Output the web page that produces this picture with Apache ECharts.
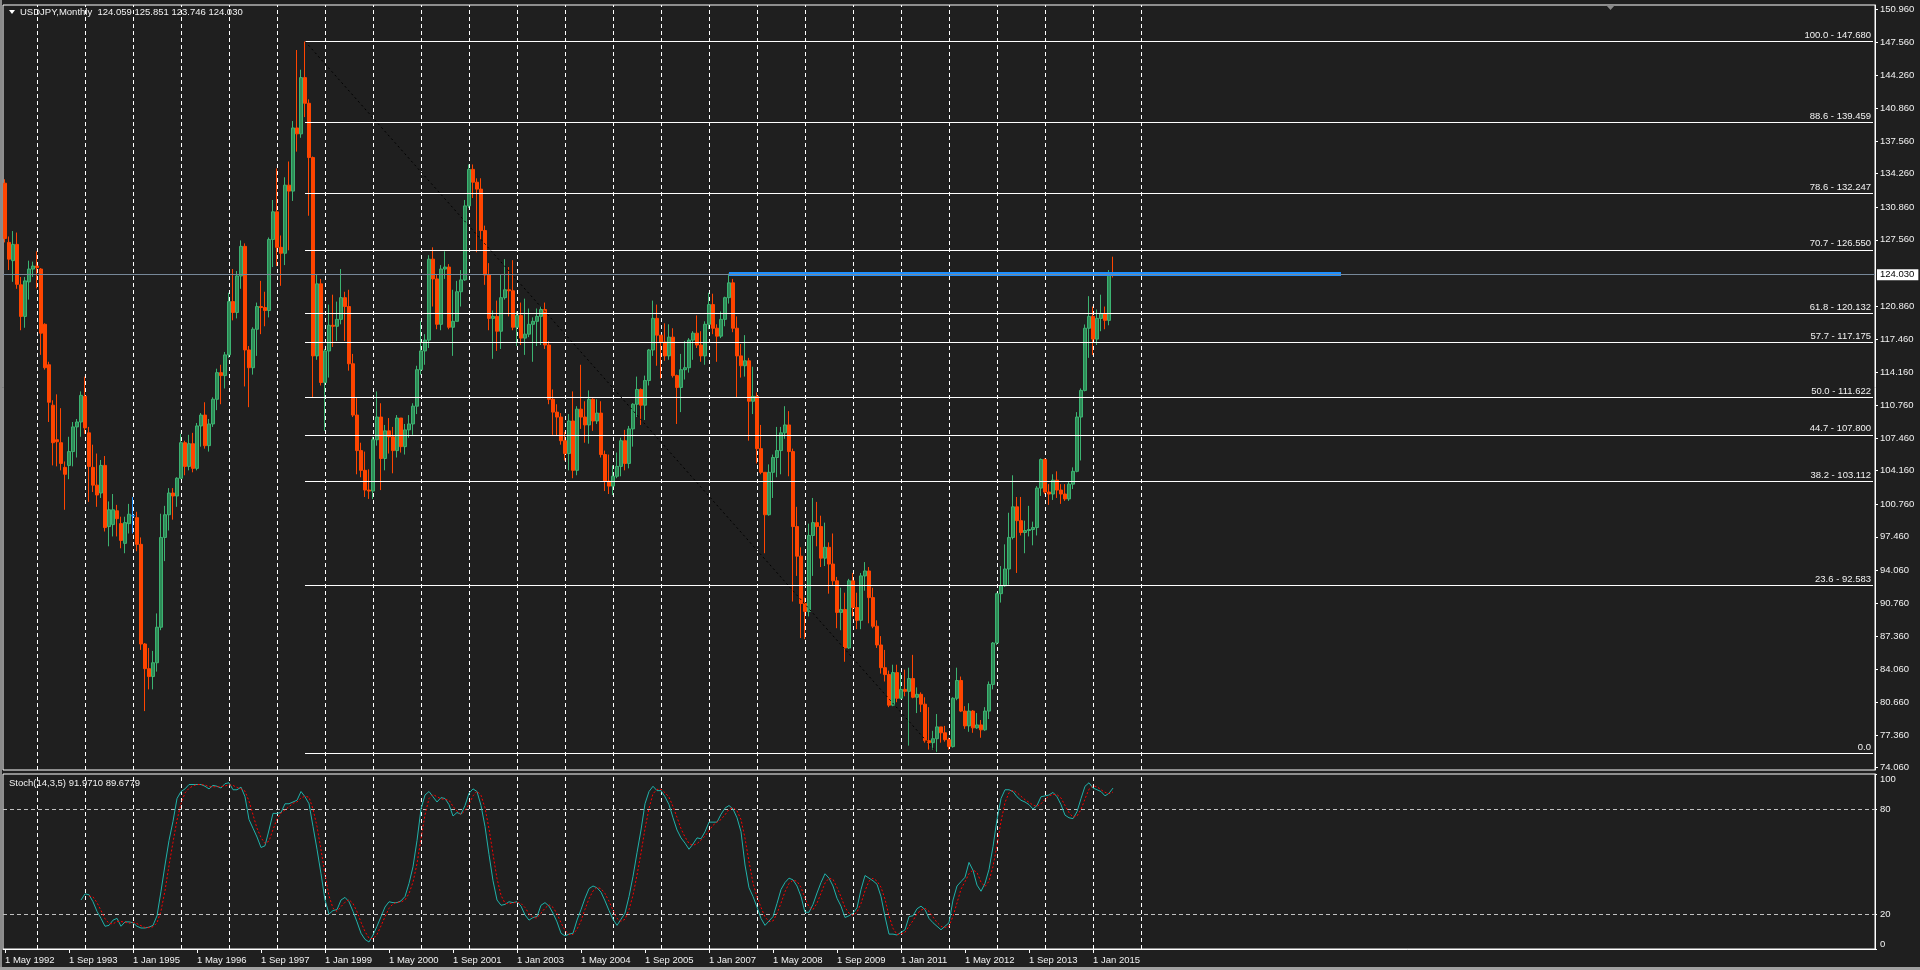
<!DOCTYPE html>
<html><head><meta charset="utf-8">
<script src="https://cdn.jsdelivr.net/npm/echarts@6/dist/echarts.min.js"></script>
<style>html,body{margin:0;padding:0;background:#1f1f1f;overflow:hidden}#c{width:1920px;height:970px}</style>
</head><body><div id="c"></div><script>
// ---------- DATA ----------
const symbolTitle = 'USDJPY,Monthly  124.059 125.851 123.746 124.030';
const stochTitle = 'Stoch(14,3,5) 91.9710 89.6779';
const MONTHS = ['Jan','Feb','Mar','Apr','May','Jun','Jul','Aug','Sep','Oct','Nov','Dec'];
const firstYear = 1992, firstMonth = 4;   // 1 May 1992
const slotCount = 468;                    // monthly slots visible (incl. empty right shift)
const lastGridYear = 2016;

const tickLabels = ['1 May 1992','1 Sep 1993','1 Jan 1995','1 May 1996','1 Sep 1997','1 Jan 1999','1 May 2000','1 Sep 2001','1 Jan 2003','1 May 2004','1 Sep 2005','1 Jan 2007','1 May 2008','1 Sep 2009','1 Jan 2011','1 May 2012','1 Sep 2013','1 Jan 2015'];
const priceTicks = [150.96,147.56,144.26,140.86,137.56,134.26,130.86,127.56,120.86,117.46,114.16,110.76,107.46,104.16,100.76,97.46,94.06,90.76,87.36,84.06,80.66,77.36,74.06];
const stochTicks = [0,20,80,100];
const stochLevels = [20,80];

const opens = [
133.3,127.3,125.45,127.1,123.0,119.8,123.3,124.6,
124.9,124.6,119.0,114.9,110.8,107.3,107.0,104.5,104.7,106.1,108.6,109.1,
111.7,108.0,104.5,102.7,101.9,104.7,98.5,98.7,100.1,98.8,96.8,98.8,
99.6,99.4,96.7,86.6,84.1,83.3,84.7,88.3,97.4,99.7,101.9,101.6,
103.4,107.0,104.6,106.9,104.4,108.7,109.8,106.7,108.9,111.4,114.1,113.8,
115.9,121.3,120.2,123.9,126.9,116.4,114.6,118.5,120.8,120.7,120.4,127.6,
130.4,126.8,126.2,133.1,132.5,138.9,138.3,144.0,141.4,135.9,115.8,123.1,
113.1,116.3,118.9,118.8,119.5,121.7,120.8,115.0,109.8,106.2,104.2,102.2,
102.1,107.3,109.6,105.4,108.2,107.6,106.2,109.5,106.6,108.3,108.9,110.7,
114.4,116.3,117.4,125.6,123.6,119.0,124.6,124.8,118.7,119.3,122.3,123.5,
131.0,134.7,133.4,132.7,128.5,124.0,119.6,119.8,118.3,121.7,122.5,122.4,
118.7,119.9,117.6,118.0,119.0,119.3,119.8,120.5,116.9,111.4,110.1,109.6,
107.2,105.9,109.2,104.2,110.4,109.6,108.8,111.4,109.2,110.0,105.8,103.1,
102.6,103.6,104.6,107.2,104.9,108.4,110.9,112.4,110.8,113.3,116.4,119.6,
117.9,117.2,115.8,117.7,113.8,112.6,114.4,114.6,117.4,118.1,116.9,115.8,
119.0,121.0,118.6,117.8,119.5,121.7,123.2,118.6,115.8,114.8,115.3,111.2,
111.7,106.4,104.0,99.7,104.0,105.5,106.2,108.0,108.8,106.1,98.5,95.5,
90.7,89.9,97.6,98.9,98.5,95.3,96.4,94.7,93.0,89.8,90.1,86.2,
93.0,90.3,89.0,93.5,94.0,91.3,88.4,86.5,84.2,83.5,80.4,83.7,
81.1,82.0,81.8,83.1,81.2,81.5,80.5,76.8,76.6,77.0,78.2,77.6,
76.9,76.2,81.1,82.9,79.8,78.3,79.8,78.1,78.4,77.9,79.8,82.5,
86.7,91.7,92.5,94.2,97.4,100.5,99.1,97.9,98.1,98.2,98.4,102.4,
105.3,102.0,101.8,103.2,102.2,101.8,101.3,102.8,104.1,109.6,112.3,118.6,
119.8,117.5,119.6,120.1,119.4,124.059];
const highs = [
133.7,127.9,128.45,128.3,123.8,123.8,125.45,125.35,
126.4,124.7,119.1,115.2,111.3,111.9,110.5,105.1,107.6,109.1,109.4,112.2,
113.7,108.6,106.8,105.9,105.25,105.65,101.05,101.8,100.7,99.5,99.5,100.8,
101.5,100.0,97.4,86.7,86.2,85.9,89.7,99.8,100.6,102.4,102.4,103.5,
107.9,107.2,107.8,108.0,109.0,110.0,111.1,109.4,111.6,114.5,114.9,116.2,
122.2,124.6,124.4,127.5,127.2,116.8,118.7,121.2,123.4,122.3,127.8,131.6,
134.8,128.0,133.9,135.5,139.6,146.8,144.8,147.68,141.8,136.0,124.1,123.6,
116.5,121.0,122.0,121.3,124.6,122.3,122.5,116.0,111.6,107.0,106.1,104.3,
107.6,112.2,111.0,108.8,109.5,108.6,109.8,109.5,108.9,109.8,111.0,114.8,
119.3,118.0,126.0,126.8,124.0,125.0,126.4,125.1,122.5,123.4,124.5,131.6,
135.2,135.2,133.8,133.8,129.0,125.2,120.4,121.4,124.0,125.6,124.8,125.5,
120.3,121.2,121.6,120.6,119.7,120.6,120.8,121.2,117.3,112.4,110.9,110.0,
108.1,109.9,112.2,110.7,114.9,111.2,112.3,111.5,111.4,111.2,106.2,105.8,
104.7,106.0,107.5,108.3,108.7,111.0,113.7,112.5,113.8,116.5,121.4,121.0,
117.9,119.1,119.0,118.6,113.9,116.0,117.3,117.6,118.3,119.9,118.3,119.3,
122.2,122.1,119.0,120.3,121.8,124.14,123.6,119.8,117.0,117.9,115.6,114.7,
112.1,108.8,104.0,104.8,105.8,108.6,108.6,110.7,110.2,106.4,100.5,96.4,
91.3,98.8,101.4,101.0,99.6,98.9,96.9,97.8,93.4,92.3,91.8,93.2,
93.8,91.8,93.8,94.9,94.4,92.3,89.0,87.4,86.0,83.9,84.5,84.5,
83.7,84.0,84.2,85.5,82.2,81.7,81.2,80.2,77.8,79.5,78.2,78.3,
77.1,81.2,84.2,83.3,80.3,80.6,79.9,79.6,78.9,80.2,82.8,86.8,
91.8,94.5,96.7,99.9,103.7,101.5,101.5,99.1,100.6,99.0,102.6,105.4,
105.4,102.8,103.8,104.1,102.8,102.8,103.1,104.5,110.1,112.5,118.98,121.85,
120.8,120.5,122.0,120.8,124.5,125.851];
const lows = [
127.3,124.5,123.3,122.6,118.4,118.65,121.5,123.8,
122.65,115.9,114.4,109.1,104.7,104.6,104.2,100.2,103.3,104.6,105.5,107.6,
107.9,101.0,102.0,100.5,101.4,98.0,96.5,97.5,97.5,96.3,95.8,97.8,
97.8,96.0,86.0,79.8,82.0,82.0,83.8,88.0,95.0,98.1,99.2,100.5,
103.3,103.7,104.2,104.0,104.2,106.6,106.4,106.1,108.6,110.3,110.9,112.5,
115.6,119.4,119.6,122.6,112.7,110.6,113.9,115.8,118.0,118.8,119.7,124.8,
124.9,122.9,125.0,126.5,131.5,136.5,137.9,140.0,130.0,111.6,115.4,112.8,
108.2,113.6,116.7,117.3,119.0,117.3,114.3,109.6,103.8,103.5,101.5,101.3,
101.3,106.7,102.2,104.2,105.9,103.9,105.5,106.0,105.8,107.5,107.8,109.9,
113.9,114.9,116.6,120.8,118.5,118.4,123.6,118.5,115.8,119.3,120.8,123.4,
130.8,131.8,126.3,127.6,123.0,118.4,115.5,116.3,116.5,121.5,119.8,118.4,
116.8,116.9,115.9,117.7,115.2,116.8,116.9,116.5,110.9,107.8,107.7,106.8,
105.2,104.2,103.4,103.7,108.4,107.0,106.9,108.2,108.9,105.5,102.1,101.8,
101.7,103.4,103.6,104.2,104.4,106.6,109.6,108.8,109.3,112.8,115.8,114.8,
113.5,115.3,115.4,113.6,108.9,110.1,113.4,114.1,115.4,116.6,115.2,114.9,
118.5,118.0,115.2,117.6,118.8,121.1,118.2,111.6,113.6,113.7,107.2,109.9,
104.9,103.8,95.8,99.6,101.4,103.5,103.8,107.4,103.6,90.9,93.5,87.2,
87.1,89.4,93.5,96.5,94.4,94.5,91.7,92.5,88.2,88.0,84.8,86.1,
89.4,88.1,88.1,92.0,88.7,88.2,86.2,83.6,82.8,80.2,80.3,80.7,
81.0,81.3,76.3,81.1,79.6,79.7,76.6,75.9,75.9,75.56,76.6,76.7,
75.9,76.1,80.9,79.7,78.0,77.7,77.6,78.0,77.1,77.8,79.0,82.0,
86.5,90.8,92.4,92.6,97.2,93.8,97.6,95.8,97.5,96.6,97.6,101.6,
101.8,100.7,101.2,101.4,100.8,101.1,101.1,102.3,104.0,105.2,112.2,115.6,
115.9,116.9,118.3,118.5,118.9,123.746];
const closes = [
127.7,125.6,127.1,123.05,119.8,123.4,124.6,124.9,
124.75,118.1,114.6,111.1,107.0,107.1,104.9,103.8,106.1,108.6,109.1,111.8,
108.5,104.6,102.7,101.7,104.7,98.4,100.2,100.2,99.3,97.1,98.9,99.75,
99.6,96.7,86.6,84.1,83.3,84.7,88.3,97.4,99.7,101.9,101.6,103.4,
107.0,104.6,106.9,104.4,108.7,109.8,106.7,108.9,111.4,114.1,113.8,115.9,
121.3,120.2,123.9,126.9,116.4,114.6,118.5,120.8,120.7,120.4,127.6,130.4,
126.8,126.2,133.1,132.5,138.9,138.3,144.0,141.4,135.9,115.8,123.1,113.1,
116.3,118.9,118.8,119.5,121.7,120.8,115.0,109.8,106.2,104.2,102.2,102.1,
107.3,109.6,105.4,108.2,107.6,106.2,109.5,106.6,108.3,108.9,110.7,114.4,
116.3,117.4,125.6,123.6,119.0,124.6,124.8,118.7,119.3,122.3,123.5,131.0,
134.7,133.4,132.7,128.5,124.0,119.6,119.8,118.3,121.7,122.5,122.4,118.7,
119.9,117.6,118.0,119.0,119.3,119.8,120.5,116.9,111.4,110.1,109.6,107.2,
105.9,109.2,104.2,110.4,109.6,108.8,111.4,109.2,110.0,105.8,103.1,102.6,
103.6,104.6,107.2,104.9,108.4,110.9,112.4,110.8,113.3,116.4,119.6,117.9,
117.2,115.8,117.7,113.8,112.6,114.4,114.6,117.4,118.1,116.9,115.8,119.0,
121.0,118.6,117.8,119.5,121.7,123.2,118.6,115.8,114.8,115.3,111.2,111.7,
106.4,104.0,99.7,104.0,105.5,106.2,108.0,108.8,106.1,98.5,95.5,90.7,
89.9,97.6,98.9,98.5,95.3,96.4,94.7,93.0,89.8,90.1,86.2,93.0,
90.3,89.0,93.5,94.0,91.3,88.4,86.5,84.2,83.5,80.4,83.7,81.1,
82.0,81.8,83.1,81.2,81.5,80.5,76.8,76.6,77.0,78.2,77.6,76.9,
76.2,81.1,82.9,79.8,78.3,79.8,78.1,78.4,77.9,79.8,82.5,86.7,
91.7,92.5,94.2,97.4,100.5,99.1,97.9,98.1,98.2,98.4,102.4,105.3,
102.0,101.8,103.2,102.2,101.8,101.3,102.8,104.1,109.6,112.3,118.6,119.8,
117.5,119.6,120.1,119.4,124.06,124.030];

// Stochastic main (%K) starts at bar 19, signal (%D) at bar 21
const stochKStart = 19;
const stochK = [
28,31.5,31,27,21.5,17.5,13,13.5,16.5,17.5,
13,15.5,15.5,15,13,12,12,12.5,13.5,19,
33,48,62,73,86,90,91.5,94,94,94,
94,93,91.5,93.5,93,92,94.5,95,91,91,
92.5,87,74,69,64,58,59,68,77.5,77.5,
78,83,83,84,85,90,87,83,70,57,
43,28,20,22,22.5,28,29.5,27,21.5,15.5,
9,5.5,4,8,13,18.5,24,27,26.5,26.5,
27.5,30,37.5,47,62,80,88,90,87,84,
86.5,86,82.5,76,78,77,82,89,91.5,90,
82,70,54,39,28,25,25.5,27,26.5,27,
24.5,19.5,16.5,18,18.5,25,26.5,24.5,20.5,15.5,
9,7.5,8.5,9,16.5,22.5,29,34.5,36,35,
32.5,27.5,22,17,13.5,17,20.5,30,41.5,55,
68,83,90,93,90.5,90.5,87,82.5,75,68,
63.5,60.5,57,60,63.5,63,67,72.5,72.5,72.5,
77,80.5,82,80,75,67,48,35,30,24,
17.5,13.5,16,18.5,26,34,38,40.5,39.5,36,
30,21,21,25.5,32,38,43,40.5,36,29,
24.5,18,19,20.5,23.5,34,42,40.5,39,37,
30,18.5,8.5,8.5,8,9.5,11,18.5,19,23,
24.5,22.5,17.5,15,13,11,13,15,28,36,
38.5,41,49.5,45,36.5,33,37.5,45.5,58.5,74,
86,91,91,90,87,85,84,82.5,80,82,
87,87.5,88,89.5,87,82.5,76.5,75,74.5,78.5,
86,93,95,92,91,90,87.5,89,91.97];
const stochDStart = 21;
const stochD = [
30.2,29.8,26.5,22,17.3,14.7,14.3,15.8,15.7,15.3,
14.7,15.3,14.5,13.3,12.3,12.2,12.7,15,21.8,33.3,
47.7,61,73.7,83,89.2,91.8,93.2,94,94,93.7,
92.8,92.7,92.7,92.8,93.2,93.8,93.5,92.3,91.5,90.2,
84.5,76.7,69,63.7,60.3,61.7,68.2,74.3,77.7,79.5,
81.3,83.3,84,86.3,87.3,86.7,80,70,56.7,42.7,
30.3,23.3,21.5,24.2,26.7,28.2,26,21.3,15.3,10,
6.2,5.8,8.3,13.2,18.5,23.2,25.8,26.7,26.8,28,
31.7,38.2,48.8,63,76.7,86,88.3,87,85.8,85.5,
85,81.5,78.8,77,79,82.7,87.5,90.2,87.8,80.7,
68.7,54.3,40.3,30.7,26.2,25.8,26.3,26.8,26,23.7,
20.2,18,17.7,20.5,23.3,25.3,23.8,20.2,15,10.7,
8.3,8.3,11.3,16,22.7,28.7,33.2,35.2,34.5,31.7,
27.3,22.2,17.5,15.8,17,22.5,30.7,42.2,54.8,68.7,
80.3,88.7,91.2,91.3,89.3,86.7,81.5,75.2,68.8,64,
60.3,59.2,60.2,62.2,64.5,67.5,70.7,72.5,74,76.7,
79.8,80.8,79,74,63.3,50,37.7,29.7,23.8,18.3,
15.7,16,20.2,26.2,32.7,37.5,39.3,38.7,35.2,29,
24,22.5,26.2,31.8,37.7,40.5,39.8,35.2,29.8,23.8,
20.5,19.2,21,26,33.2,38.8,40.5,38.8,35.3,28.5,
19,11.8,8.3,8.7,9.5,13,16.2,20.2,22.2,23.3,
21.5,18.3,15.2,13,12.3,13,18.7,26.3,34.2,38.5,
43,45.2,43.7,38.2,35.7,38.7,47.2,59.3,72.8,83.7,
89.3,90.7,89.3,87.3,85.3,83.8,82.2,81.5,83,85.5,
87.5,88.3,88.2,86.3,82,78,75.3,76,79.7,85.8,
91.3,93.3,92.7,91,89.5,88.8,89.68];

// Fibonacci retracement drawn from the Aug 1998 high to the Oct 2011 low
const fibHighIndex = 75, fibHigh = 147.680;
const fibLowIndex = 233, fibLow = 75.564;
const fibLevels = [100.0,88.6,78.6,70.7,61.8,57.7,50.0,44.7,38.2,23.6,0.0];
const fibPrices = [147.680,139.459,132.247,126.550,120.132,117.175,111.622,107.800,103.112,92.583,75.564];
// Horizontal resistance (Jun 2007 high) and current price
const resistanceStartIndex = 181, resistanceEndIndex = 334, resistancePrice = 124.14;
const currentPrice = 124.030;

// ---------- BUILD ----------
const categories = [];
for (let k = 0; k < slotCount; k++) {
  const m = (firstMonth + k) % 12, y = firstYear + Math.floor((firstMonth + k) / 12);
  categories.push('1 ' + MONTHS[m] + ' ' + y);
}
const tickSet = new Set(tickLabels);
const yearLines = categories.filter((c, k) => c.startsWith('1 Jan') && +c.slice(-4) <= lastGridYear);

const UP_FILL = '#2e8b57', UP_LINE = '#3cb371', DN_FILL = '#ff4500', DN_LINE = '#ff4500', DOJI = '#1e90ff';
const candleData = opens.map((o, i) => {
  const item = { value: [o, closes[i], lows[i], highs[i]] };
  if (o === closes[i]) item.itemStyle = { color: DOJI, color0: DOJI, borderColor: DOJI, borderColor0: DOJI };
  return item;
});
const kData = new Array(stochKStart).fill(null).concat(stochK);
const dData = new Array(stochDStart).fill(null).concat(stochD);

const FONT = 'Liberation Sans';
const TXT = '#f2f2f2';
const lastCat = categories[slotCount - 1];

const fibMarks = fibLevels.map((lv, k) => [
  { coord: [categories[fibHighIndex], fibPrices[k]],
    lineStyle: { color: '#ffffff', width: 1, type: 'solid' },
    label: { show: true, position: 'insideEndTop', distance: [2, 1],
      formatter: lv === 0 ? '0.0' : lv.toFixed(1) + ' - ' + fibPrices[k].toFixed(3),
      color: TXT, fontFamily: FONT, fontSize: 9.5 } },
  { coord: [lastCat, fibPrices[k]] }
]);
const overlayMarks = fibMarks.concat([
  [ { coord: [categories[fibHighIndex], fibHigh], lineStyle: { color: '#000000', width: 1, type: [2, 3] }, label: { show: false } },
    { coord: [categories[fibLowIndex], fibLow] } ],
  [ { coord: [categories[resistanceStartIndex], resistancePrice], lineStyle: { color: '#1e90ff', width: 4, type: 'solid' }, label: { show: false } },
    { coord: [categories[resistanceEndIndex], resistancePrice] } ],
  { yAxis: currentPrice, lineStyle: { color: '#778899', width: 1, type: 'solid' },
    label: { show: true, position: 'end', distance: 2, formatter: currentPrice.toFixed(3),
      backgroundColor: '#ffffff', color: '#000000', padding: [1, 4, 0, 3], fontFamily: FONT, fontSize: 9.5 } }
]);

const chart = echarts.init(document.getElementById('c'), null, { renderer: 'canvas' });
chart.setOption({
  animation: false,
  backgroundColor: '#1f1f1f',
  textStyle: { fontFamily: FONT },
  grid: [
    { left: 3, top: 5, width: 1872, height: 765, show: true, borderColor: '#ffffff', borderWidth: 1, backgroundColor: 'transparent' },
    { left: 3, top: 774, width: 1872, height: 175, show: true, borderColor: '#ffffff', borderWidth: 1, backgroundColor: 'transparent' }
  ],
  xAxis: [
    { type: 'category', gridIndex: 0, data: categories, boundaryGap: true,
      axisLine: { show: false }, axisTick: { show: false }, axisLabel: { show: false }, splitLine: { show: false } },
    { type: 'category', gridIndex: 1, data: categories, boundaryGap: true,
      axisLine: { show: true, lineStyle: { color: '#ffffff', width: 1 } },
      axisTick: { show: true, alignWithLabel: true, length: 4, interval: (i, v) => tickSet.has(v), lineStyle: { color: '#ffffff' } },
      axisLabel: { show: true, interval: (i, v) => tickSet.has(v), align: 'left', margin: 6,
        color: TXT, fontFamily: FONT, fontSize: 9.5 },
      splitLine: { show: false } }
  ],
  yAxis: [
    { type: 'value', gridIndex: 0, position: 'right', min: 73.83, max: 151.36, scale: true,
      axisLine: { show: true, lineStyle: { color: '#ffffff' } },
      axisTick: { show: true, length: 3, customValues: priceTicks, lineStyle: { color: '#ffffff' } },
      axisLabel: { show: true, customValues: priceTicks, formatter: v => v.toFixed(3), margin: 5,
        color: TXT, fontFamily: FONT, fontSize: 9.5 },
      splitLine: { show: false } },
    { type: 'value', gridIndex: 1, position: 'right', min: 0, max: 100,
      axisLine: { show: true, lineStyle: { color: '#ffffff' } },
      axisTick: { show: true, length: 2, customValues: stochTicks, lineStyle: { color: '#ffffff' } },
      axisLabel: { show: true, customValues: stochTicks, margin: 5, color: TXT, fontFamily: FONT, fontSize: 9.5,
        verticalAlignMinLabel: 'bottom', verticalAlignMaxLabel: 'top' },
      splitLine: { show: false } }
  ],
  series: [
    { name: 'gridPrice', type: 'line', xAxisIndex: 0, yAxisIndex: 0, data: [], silent: true, z: 1,
      markLine: { silent: true, z: 1, symbol: ['none', 'none'], animation: false, label: { show: false },
        lineStyle: { color: '#ffffff', width: 1, type: [4, 3] },
        data: yearLines.map(c => ({ xAxis: c })) } },
    { name: 'USDJPY', type: 'candlestick', xAxisIndex: 0, yAxisIndex: 0, data: candleData, z: 3,
      barWidth: 3,
      itemStyle: { color: UP_FILL, color0: DN_FILL, borderColor: UP_LINE, borderColor0: DN_LINE, borderWidth: 1 },
      markLine: { silent: true, symbol: ['none', 'none'], animation: false, label: { show: false },
        data: overlayMarks } },
    { name: 'gridStoch', type: 'line', xAxisIndex: 1, yAxisIndex: 1, data: [], silent: true, z: 1,
      markLine: { silent: true, z: 1, symbol: ['none', 'none'], animation: false, label: { show: false },
        data: yearLines.map(c => ({ xAxis: c, lineStyle: { color: '#ffffff', width: 1, type: [4, 3] } }))
          .concat(stochLevels.map(v => ({ yAxis: v, lineStyle: { color: '#c0c0c0', width: 1, type: [4, 3] } }))) } },
    { name: 'Main', type: 'line', xAxisIndex: 1, yAxisIndex: 1, data: kData, showSymbol: false, z: 3,
      lineStyle: { color: '#20b2aa', width: 1 }, connectNulls: false },
    { name: 'Signal', type: 'line', xAxisIndex: 1, yAxisIndex: 1, data: dData, showSymbol: false, z: 4,
      lineStyle: { color: '#ff0000', width: 1, type: [2, 2] }, connectNulls: false }
  ],
  graphic: [
    { type: 'rect', left: 0, top: 0, shape: { width: 2, height: 970 }, style: { fill: '#8a8a8a' }, silent: true },
    { type: 'rect', left: 0, top: 967, shape: { width: 1920, height: 3 }, style: { fill: '#a0a0a0' }, silent: true },
    { type: 'polygon', shape: { points: [[9, 10], [15, 10], [12, 14]] }, style: { fill: '#ffffff' }, silent: true },
    { type: 'text', left: 20, top: 7, style: { text: symbolTitle, fill: TXT, font: '9.5px "Liberation Sans"' }, silent: true },
    { type: 'text', left: 9, top: 778, style: { text: stochTitle, fill: TXT, font: '9.5px "Liberation Sans"' }, silent: true },
    { type: 'polygon', shape: { points: [[1606, 5], [1615, 5], [1610.5, 10]] }, style: { fill: '#8a8a8a' }, silent: true }
  ]
});
</script></body></html>
